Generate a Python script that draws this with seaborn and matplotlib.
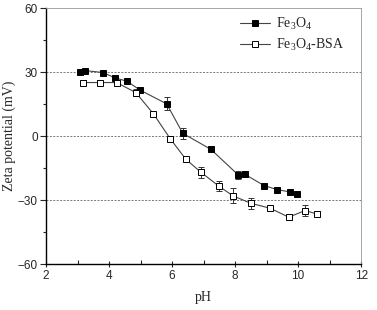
import numpy as np
import pandas as pd
import seaborn as sns
import matplotlib.pyplot as plt

# data
ph_fe = [3.08, 3.24, 3.80, 4.19, 4.57, 4.98, 5.83, 6.34, 7.23, 8.10, 8.31, 8.92, 9.34, 9.75, 9.95]
zeta_fe = [30.2, 30.7, 29.8, 27.3, 25.7, 21.6, 15.1, 1.3, -6.2, -18.2, -17.9, -23.2, -25.1, -26.2, -27.0]
err_fe = [0.5, 0.5, 0.5, 0.5, 0.5, 1.0, 3.0, 2.5, 1.0, 2.0, 1.5, 0.5, 0.5, 0.5, 0.5]

ph_bsa = [3.16, 3.71, 4.24, 4.85, 5.41, 5.94, 6.44, 6.92, 7.48, 7.92, 8.50, 9.11, 9.70, 10.22, 10.60]
zeta_bsa = [25.1, 25.1, 25.1, 20.4, 10.4, -1.2, -10.9, -17.0, -23.4, -27.9, -31.5, -33.8, -38.0, -34.9, -36.5]
err_bsa = [1.0, 1.0, 1.0, 1.5, 1.0, 1.0, 1.0, 2.5, 2.5, 3.5, 2.5, 1.0, 1.5, 2.5, 1.5]

df = pd.concat([
    pd.DataFrame(dict(pH=ph_fe, zeta=zeta_fe, err=err_fe, sample="Fe$_3$O$_4$")),
    pd.DataFrame(dict(pH=ph_bsa, zeta=zeta_bsa, err=err_bsa, sample="Fe$_3$O$_4$-BSA")),
])

sns.set_theme(style="ticks", rc={
    "font.family": "sans-serif",
    "font.sans-serif": ["Liberation Sans", "DejaVu Sans"],
    "mathtext.fontset": "custom",
    "mathtext.rm": "Liberation Serif",
})

fig = plt.figure(figsize=(3.77, 3.10), dpi=100)
ax = fig.add_axes([0.122, 0.148, 0.836, 0.826])

# reference lines
for yv in [30, 0, -30]:
    ax.axhline(yv, color="#777777", lw=0.7, ls=(0, (2, 1.5)), zorder=0)

styles = {"Fe$_3$O$_4$": "black", "Fe$_3$O$_4$-BSA": "white"}
for name, sub in df.groupby("sample", sort=False):
    ax.errorbar(sub["pH"], sub["zeta"], yerr=sub["err"], fmt="none",
                ecolor="#333333", elinewidth=0.7, capsize=2, capthick=0.7, zorder=2)
    sns.lineplot(data=sub, x="pH", y="zeta", ax=ax, color="#444444", lw=0.8,
                 marker="s", markersize=5, markerfacecolor=styles[name],
                 markeredgecolor="black", markeredgewidth=0.7, label=name,
                 sort=False, zorder=3)

ax.set_xlim(2, 12)
ax.set_ylim(-60, 60)
ax.set_xticks([2, 4, 6, 8, 10, 12])
ax.set_xticks([3, 5, 7, 9, 11], minor=True)
ax.set_yticks([-60, -30, 0, 30, 60])
ax.set_yticks([-45, -15, 15, 45], minor=True)
ax.tick_params(axis="x", which="major", direction="inout", length=5, width=0.8, labelsize=8.5, pad=2)
ax.tick_params(axis="x", which="minor", direction="in", length=3, width=0.8)
ax.tick_params(axis="y", which="major", direction="out", length=4, width=0.8, labelsize=8.5, pad=2)
ax.tick_params(axis="y", which="minor", direction="out", length=2.5, width=0.8)

for s in ["left", "bottom"]:
    ax.spines[s].set_linewidth(1.0)
    ax.spines[s].set_color("black")
for s in ["top", "right"]:
    ax.spines[s].set_linewidth(0.6)
    ax.spines[s].set_color("#999999")

ax.set_xlabel("pH", family="Liberation Serif", fontsize=10, labelpad=6)
ax.set_ylabel("Zeta potential (mV)", family="Liberation Serif", fontsize=10)
ax.yaxis.set_label_coords(-0.095, 0.5)

leg = ax.legend(loc="upper right", bbox_to_anchor=(0.985, 1.02), frameon=False,
                prop={"family": "Liberation Serif", "size": 10},
                handlelength=2.2, handletextpad=0.4, labelspacing=0.35)

fig.savefig("out.png", dpi=100)
